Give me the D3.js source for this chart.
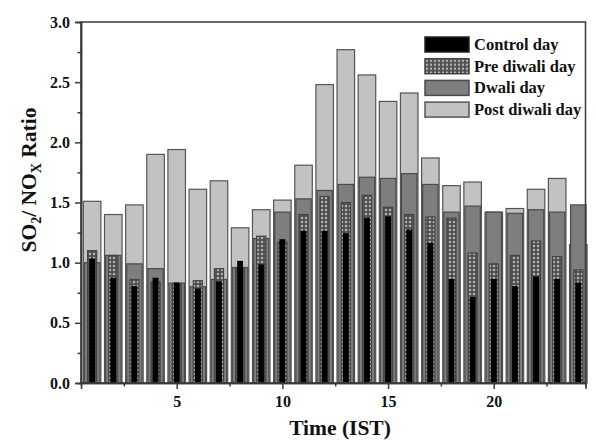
<!DOCTYPE html>
<html>
<head>
<meta charset="utf-8">
<script src="https://cdn.jsdelivr.net/npm/d3@7/dist/d3.min.js"></script>
<style>
  html, body { margin: 0; padding: 0; background: #fff; }
  svg { display: block; }
  text { font-family: "Liberation Serif", "Times New Roman", serif; font-weight: bold; fill: #111; }
</style>
</head>
<body>
<svg id="chart" width="596" height="444"></svg>
<script>
// Hourly SO2/NOx ratio for four days around Diwali
const hours = d3.range(1, 25);
const controlDay = [1.03, 0.87, 0.80, 0.87, 0.83, 0.78, 0.84, 1.01, 0.98, 1.19, 1.26, 1.26,
                    1.24, 1.37, 1.38, 1.27, 1.16, 0.86, 0.71, 0.86, 0.80, 0.88, 0.86, 0.83];
const preDiwaliDay = [1.10, 1.06, 0.86, 0.84, 0.82, 0.85, 0.95, 0.95, 1.22, 1.17, 1.40, 1.55,
                      1.50, 1.56, 1.46, 1.40, 1.38, 1.37, 1.08, 0.99, 1.06, 1.18, 1.05, 0.94];
const diwaliDay = [1.00, 1.06, 0.99, 0.95, 0.83, 0.80, 0.86, 0.96, 1.20, 1.42, 1.53, 1.60,
                   1.65, 1.71, 1.70, 1.74, 1.65, 1.42, 1.47, 1.42, 1.41, 1.44, 1.42, 1.48];
const postDiwaliDay = [1.51, 1.40, 1.48, 1.90, 1.94, 1.61, 1.68, 1.29, 1.44, 1.52, 1.81, 2.48,
                       2.77, 2.56, 2.34, 2.41, 1.87, 1.64, 1.67, 1.42, 1.45, 1.61, 1.70, 1.15];
const seriesNames = ["Control day", "Pre diwali day", "Dwali day", "Post diwali day"];
const xTicks = [5, 10, 15, 20];
const yTicks = [0, 0.5, 1.0, 1.5, 2.0, 2.5, 3.0];

const W = 596, H = 444;
const margin = { top: 22, right: 10.5, bottom: 61, left: 81 };
const svg = d3.select("#chart");

const x = d3.scaleLinear().domain([0.473, 24.34]).range([margin.left, W - margin.right]);
const y = d3.scaleLinear().domain([0, 3.0]).range([H - margin.bottom, margin.top]);

// checkered fill for the pre-Diwali series
const defs = svg.append("defs");
const pat = defs.append("pattern")
  .attr("id", "checker").attr("patternUnits", "userSpaceOnUse")
  .attr("width", 4).attr("height", 4);
pat.append("rect").attr("width", 4).attr("height", 4).attr("fill", "#4e4e4e");
pat.append("circle").attr("cx", 2).attr("cy", 2).attr("r", 1.25).attr("fill", "#b4b4b4");

// drawn back to front: widest bar first
const layers = [
  { name: seriesNames[3], values: postDiwaliDay, width: 0.83, fill: "#c2c2c2", stroke: "#555" },
  { name: seriesNames[2], values: diwaliDay, width: 0.73, fill: "#7e7e7e", stroke: "#4a4a4a" },
  { name: seriesNames[1], values: preDiwaliDay, width: 0.43, fill: "url(#checker)", stroke: "#444" },
  { name: seriesNames[0], values: controlDay, width: 0.22, fill: "#000", stroke: "#000" }
];
const unit = x(2) - x(1);

const plot = svg.append("g");
layers.forEach(layer => {
  plot.append("g").selectAll("rect")
    .data(hours.map((h, i) => ({ h, v: layer.values[i] })))
    .join("rect")
      .attr("x", d => x(d.h) - layer.width * unit / 2)
      .attr("width", layer.width * unit)
      .attr("y", d => y(d.v))
      .attr("height", d => y(0) - y(d.v))
      .attr("fill", layer.fill)
      .attr("stroke", layer.stroke)
      .attr("stroke-width", 1.2);
});

// frame
const axisColor = "#3a3a3a";
svg.append("rect")
  .attr("x", margin.left).attr("y", margin.top)
  .attr("width", W - margin.right - margin.left)
  .attr("height", H - margin.bottom - margin.top)
  .attr("fill", "none").attr("stroke", axisColor).attr("stroke-width", 1.5);

// y axis: major ticks with labels, minor ticks between
svg.append("g").attr("transform", `translate(${margin.left},0)`)
  .call(d3.axisLeft(y).tickValues(yTicks).tickFormat(d3.format(".1f")).tickSize(6).tickPadding(5));
svg.append("g").attr("transform", `translate(${margin.left},0)`)
  .call(d3.axisLeft(y).tickValues(d3.range(0.25, 3, 0.5)).tickFormat("").tickSize(3.5));

// x axis
svg.append("g").attr("transform", `translate(0,${H - margin.bottom})`)
  .call(d3.axisBottom(x).tickValues(xTicks).tickFormat(d3.format("d")).tickSize(6).tickPadding(7));
svg.append("g").attr("transform", `translate(0,${H - margin.bottom})`)
  .call(d3.axisBottom(x).tickValues([2.5, 7.5, 12.5, 17.5, 22.5]).tickFormat("").tickSize(3.5));

svg.selectAll(".domain").attr("stroke", axisColor).attr("stroke-width", 1.5);
svg.selectAll(".tick line").attr("stroke", axisColor).attr("stroke-width", 1.5);
svg.selectAll(".tick text")
  .attr("font-family", '"Liberation Serif", serif')
  .attr("font-weight", "bold")
  .attr("font-size", 16)
  .attr("fill", "#111");

// axis titles
svg.append("text")
  .attr("x", 340).attr("y", 435)
  .attr("text-anchor", "middle")
  .attr("font-size", 21.5)
  .text("Time (IST)");

const yl = svg.append("text")
  .attr("transform", "translate(36,180) rotate(-90)")
  .attr("text-anchor", "middle")
  .attr("font-size", 21.5);
yl.append("tspan").text("SO");
yl.append("tspan").attr("font-size", 14).attr("dy", 5).text("2");
yl.append("tspan").attr("dy", -5).text("/ NO");
yl.append("tspan").attr("font-size", 14).attr("dy", 5).text("X");
yl.append("tspan").attr("dy", -5).text(" Ratio");

// legend
const legendItems = [
  { name: seriesNames[0], fill: "#000", stroke: "#222" },
  { name: seriesNames[1], fill: "url(#checker)", stroke: "#444" },
  { name: seriesNames[2], fill: "#7e7e7e", stroke: "#4a4a4a" },
  { name: seriesNames[3], fill: "#c2c2c2", stroke: "#555" }
];
const lg = svg.append("g").attr("transform", "translate(425,37)");
legendItems.forEach((d, i) => {
  const row = lg.append("g").attr("transform", `translate(0,${i * 21.7})`);
  row.append("rect").attr("width", 44).attr("height", 15)
    .attr("fill", d.fill).attr("stroke", d.stroke).attr("stroke-width", 1.5);
  row.append("text").attr("x", 49).attr("y", 13).attr("font-size", 16.5).text(d.name);
});
</script>
</body>
</html>
